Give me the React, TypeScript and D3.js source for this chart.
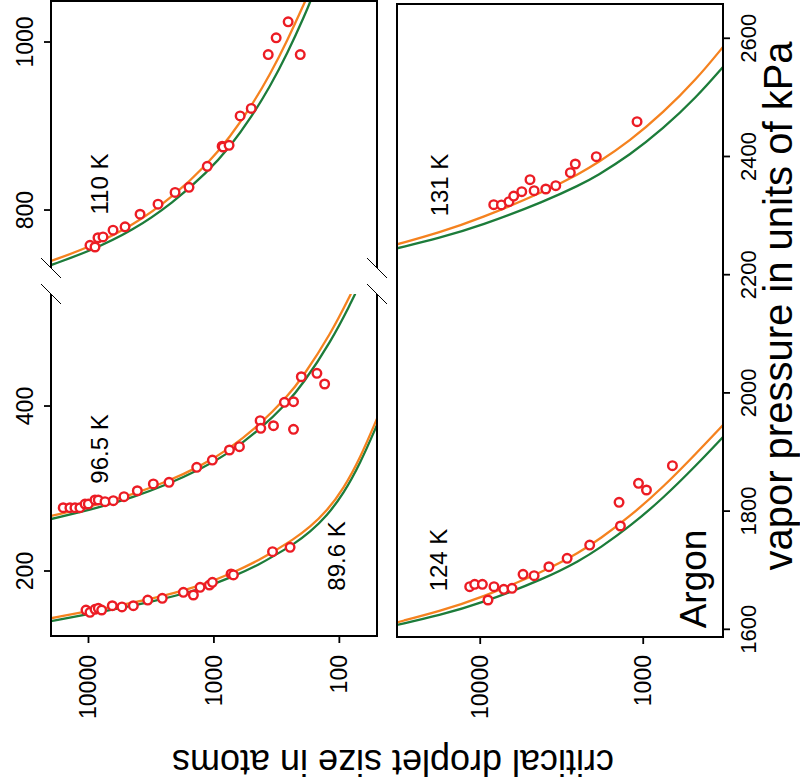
import React from "react";
import * as d3 from "d3";

// critical droplet size (atoms) vs vapor pressure (kPa), argon
const curves110Orange = [[19900, 739.3], [9730, 756], [4420, 781.5], [2120, 815.8], [1130, 854.3], [743, 887.1], [498, 924.6], [356, 961.7], [262, 1000.5], [184, 1051.1]];
const curves110Green = [[19900, 734.5], [9730, 751.2], [4420, 775.6], [2120, 808.7], [1130, 844.8], [743, 875.2], [498, 911.5], [356, 947.4], [262, 985], [184, 1035.6], [167.6, 1051]];

const curves965Orange = [[19900, 266.7], [8090, 281], [4420, 293], [2370, 308.2], [1288, 326.7], [756, 347.8], [428, 377.8], [261, 411.1], [198, 433.8], [116, 488.4], [80.8, 536.1]];
const curves965Green = [[19900, 263], [8090, 277.3], [4420, 289.3], [2370, 304.6], [1288, 323], [756, 342.9], [428, 371.8], [261, 403.6], [198, 425.3], [116, 478.7], [80.8, 525.2], [74.7, 536]];

const curves896Orange = [[19900, 142.7], [8090, 153.9], [3230, 165.5], [1288, 181.8], [703, 197.8], [420, 214.5], [335, 223.6], [232, 238.2], [171, 253.3], [126, 272.6], [92.6, 299.8], [68.1, 337.2], [50.1, 384.7]];
const curves896Green = [[19900, 139.1], [8090, 150.4], [3230, 161.9], [1288, 177.6], [703, 193], [420, 209.1], [335, 218.2], [232, 232.1], [171, 247.3], [126, 266.6], [92.6, 293.7], [68.1, 330.6], [50.1, 377]];

const curves131Orange = [[32400, 2251.4], [17700, 2271.7], [10070, 2294.7], [3930, 2342.1], [2450, 2371.4], [1937, 2387.8], [1210, 2426], [756, 2473.9], [472, 2530.4], [324, 2585.3]];
const curves131Green = [[32400, 2244.7], [17700, 2262.4], [10070, 2282.1], [3930, 2325.2], [2450, 2351.9], [1937, 2366.6], [1210, 2402.3], [756, 2446.8], [472, 2500], [324, 2551.4]];

const curves124Orange = [[32400, 1611.8], [17700, 1630.6], [10070, 1652.3], [3930, 1699.7], [2450, 1730.6], [1849, 1752.6], [1210, 1790.7], [756, 1840.3], [472, 1898], [324, 1945.7]];
const curves124Green = [[32400, 1607.3], [17700, 1623.9], [10070, 1643], [3930, 1687], [2450, 1716.3], [1849, 1737.4], [1210, 1773.8], [756, 1821.7], [472, 1877.7], [324, 1925.4]];

const points110 = [[9730, 758], [8870, 756], [8400, 767], [7660, 768], [6370, 776], [5110, 780], [3880, 795], [2790, 807], [2040, 821], [1580, 827], [1130, 852], [860, 876], [845, 875], [757, 877], [618, 912], [504, 921], [369, 985], [319, 1005], [256, 1024], [205, 985]];
const points965 = [[15900, 276.7], [14060, 276.7], [12820, 276.7], [11700, 276.7], [10660, 281.2], [10040, 281.2], [8880, 286.1], [8360, 286.1], [7380, 284], [6340, 285.2], [5210, 290.1], [4080, 297.3], [3040, 305.5], [2280, 307.5], [1371, 325.7], [1029, 334.5], [752, 346.7], [626, 350.7], [428, 382.2], [423, 373], [335, 376.1], [274, 404.5], [232, 405.2], [232, 371.8], [201, 435.5], [151, 439.6], [131, 426.7]];
const points896 = [[10470, 152.7], [9730, 149.9], [8870, 153.6], [8350, 154.8], [7850, 152.7], [6460, 157.9], [5410, 156.4], [4390, 157.9], [3370, 164.8], [2580, 166.9], [1752, 174.2], [1458, 170.9], [1289, 180.2], [1086, 183], [1028, 186.3], [730, 196.4], [699, 195.2], [341, 223.4], [247, 228.7]];
const points131 = [[8260, 2318.4], [7410, 2318], [6660, 2323.5], [6230, 2333.1], [5560, 2340.4], [4950, 2360.7], [4670, 2342.1], [3960, 2345], [3440, 2350.6], [2800, 2372.6], [2610, 2387.3], [1940, 2399.6], [1091, 2458.9]];
const points124 = [[11600, 1672.1], [10810, 1676.1], [9700, 1676.1], [8960, 1649.6], [8230, 1672.1], [7170, 1667.7], [6380, 1669.4], [5460, 1693.1], [4670, 1690.7], [3790, 1705.9], [2930, 1720.1], [2130, 1742.6], [1407, 1814.9], [1380, 1774.8], [1069, 1847], [955, 1835.7], [662, 1876.8]];

const sizeTicksLeft = [10000, 1000, 100];
const sizeTicksRight = [10000, 1000];
const pTicksUpper = [800, 1000];
const pTicksLower = [200, 400];
const pTicksRight = [1600, 1800, 2000, 2200, 2400, 2600];

const FONT = "'Liberation Sans', Arial, Helvetica, sans-serif";
const ORANGE = "#f5821f";
const GREEN = "#1c7c3a";
const RED = "#ec1c24";

export default function App() {
  const xL = d3.scaleLog().domain([19900, 50.1]).range([51, 377]);
  const yUp = d3.scaleLinear().domain([731, 1050]).range([268, 0]);
  const yLo = d3.scaleLinear().domain([121.2, 535.8]).range([636, 294]);
  const xR = d3.scaleLog().domain([32400, 324]).range([397, 723]);
  const yR = d3.scaleLinear().domain([1587, 2658]).range([637, 4]);

  const mkLine = (xs, ys) =>
    d3.line().x((d) => xs(d[0])).y((d) => ys(d[1])).curve(d3.curveBasis);

  const lUp = mkLine(xL, yUp);
  const lLo = mkLine(xL, yLo);
  const lR = mkLine(xR, yR);

  const [lx0, lx1] = xL.range();
  const [rx0, rx1] = xR.range();
  const upTop = 1;
  const upBot = yUp.range()[0];
  const loTop = yLo.range()[1];
  const loBot = yLo.range()[0];
  const rTop = yR.range()[1];
  const rBot = yR.range()[0];

  const circles = (pts, xs, ys, key) =>
    pts.map((d, i) => (
      <circle key={key + i} cx={xs(d[0])} cy={ys(d[1])} r={4.3} fill="white" stroke={RED} strokeWidth={2.4} />
    ));

  const breakMark = (x, y, k) => (
    <line key={k} x1={x - 10} y1={y - 10} x2={x + 10} y2={y + 10} stroke="black" strokeWidth={1} />
  );

  const rotLabel = (x, y, text, size, anchor = "middle", k) => (
    <text key={k} transform={`translate(${x},${y}) rotate(-90)`} textAnchor={anchor} fontSize={size} fontFamily={FONT} fill="black">
      {text}
    </text>
  );

  return (
    <svg width={800} height={782} style={{ position: "absolute", left: 0, top: 0, background: "white" }}>
      <defs>
        <clipPath id="clipUp"><rect x={lx0} y={upTop} width={lx1 - lx0} height={upBot - upTop} /></clipPath>
        <clipPath id="clipLo"><rect x={lx0} y={loTop} width={lx1 - lx0} height={loBot - loTop} /></clipPath>
        <clipPath id="clipR"><rect x={rx0} y={rTop} width={rx1 - rx0} height={rBot - rTop} /></clipPath>
      </defs>

      {/* curves */}
      <g clipPath="url(#clipUp)" fill="none" strokeWidth={2.3}>
        <path d={lUp(curves110Green)} stroke={GREEN} />
        <path d={lUp(curves110Orange)} stroke={ORANGE} />
      </g>
      <g clipPath="url(#clipLo)" fill="none" strokeWidth={2.3}>
        <path d={lLo(curves965Green)} stroke={GREEN} />
        <path d={lLo(curves965Orange)} stroke={ORANGE} />
        <path d={lLo(curves896Green)} stroke={GREEN} />
        <path d={lLo(curves896Orange)} stroke={ORANGE} />
      </g>
      <g clipPath="url(#clipR)" fill="none" strokeWidth={2.3}>
        <path d={lR(curves131Green)} stroke={GREEN} />
        <path d={lR(curves131Orange)} stroke={ORANGE} />
        <path d={lR(curves124Green)} stroke={GREEN} />
        <path d={lR(curves124Orange)} stroke={ORANGE} />
      </g>

      {/* data points */}
      {circles(points110, xL, yUp, "a")}
      {circles(points965, xL, yLo, "b")}
      {circles(points896, xL, yLo, "c")}
      {circles(points131, xR, yR, "d")}
      {circles(points124, xR, yR, "e")}

      {/* frames */}
      <g stroke="black" strokeWidth={2} fill="none">
        <line x1={lx0 - 1} y1={upTop} x2={lx1 + 1} y2={upTop} />
        <line x1={lx0 - 1} y1={loBot} x2={lx1 + 1} y2={loBot} />
        <line x1={lx0} y1={upTop} x2={lx0} y2={upBot} />
        <line x1={lx0} y1={loTop} x2={lx0} y2={loBot} />
        <line x1={lx1} y1={upTop} x2={lx1} y2={upBot} />
        <line x1={lx1} y1={loTop} x2={lx1} y2={loBot} />
        <rect x={rx0} y={rTop} width={rx1 - rx0} height={rBot - rTop} />
      </g>
      {breakMark(lx0, upBot, "b1")}
      {breakMark(lx0, loTop, "b2")}
      {breakMark(lx1, upBot, "b3")}
      {breakMark(lx1, loTop, "b4")}

      {/* ticks */}
      <g stroke="black" strokeWidth={1.8}>
        {sizeTicksLeft.map((t) => <line key={"tl" + t} x1={xL(t)} x2={xL(t)} y1={loBot} y2={loBot + 7} />)}
        {sizeTicksRight.map((t) => <line key={"tr" + t} x1={xR(t)} x2={xR(t)} y1={rBot} y2={rBot + 7} />)}
        {pTicksUpper.map((t) => <line key={"pu" + t} x1={lx0 - 7} x2={lx0} y1={yUp(t)} y2={yUp(t)} />)}
        {pTicksLower.map((t) => <line key={"pl" + t} x1={lx0 - 7} x2={lx0} y1={yLo(t)} y2={yLo(t)} />)}
        {pTicksRight.map((t) => <line key={"pr" + t} x1={rx1} x2={rx1 + 7} y1={yR(t)} y2={yR(t)} />)}
      </g>

      {/* tick labels */}
      {sizeTicksLeft.map((t) => rotLabel(xL(t) + 8, 655, String(t), 23, "end", "sl" + t))}
      {sizeTicksRight.map((t) => rotLabel(xR(t) + 8, 655, String(t), 23, "end", "sr" + t))}
      {pTicksUpper.map((t) => rotLabel(33, yUp(t), String(t), 23, "middle", "lu" + t))}
      {pTicksLower.map((t) => rotLabel(33, yLo(t), String(t), 23, "middle", "ll" + t))}
      {pTicksRight.map((t) => rotLabel(756, yR(t), String(t), 22, "middle", "lr" + t))}

      {/* annotations */}
      {rotLabel(108, 184, "110 K", 24, "middle", "t110")}
      {rotLabel(108, 449, "96.5 K", 24, "middle", "t965")}
      {rotLabel(345, 556, "89.6 K", 24, "middle", "t896")}
      {rotLabel(448, 185, "131 K", 24, "middle", "t131")}
      {rotLabel(447, 560, "124 K", 24, "middle", "t124")}
      {rotLabel(706, 579, "Argon", 37, "middle", "argon")}

      {/* axis titles */}
      {rotLabel(792, 306, "vapor pressure in units of kPa", 40, "middle", "ytitle")}
      <text transform="translate(393,750) rotate(180)" textAnchor="middle" fontSize={36} fontFamily={FONT} fill="black">
        critical droplet size in atoms
      </text>
    </svg>
  );
}
